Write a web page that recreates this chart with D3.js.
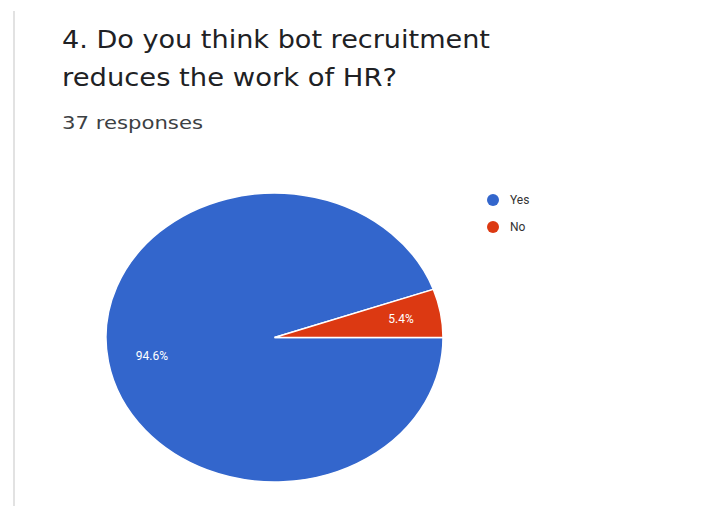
<!DOCTYPE html>
<html>
<head>
<meta charset="utf-8">
<script src="https://cdn.jsdelivr.net/npm/d3@7"></script>
<style>
  html, body { margin: 0; padding: 0; background: #ffffff; }
  svg { display: block; }
</style>
</head>
<body>
<svg id="chart" width="717" height="506"></svg>
<script>
// Survey answers for question 4
const categories = ["Yes", "No"];
const counts = [35, 2];
const colors = ["#3366cc", "#dc3912"];
const titleLines = ["4. Do you think bot recruitment", "reduces the work of HR?"];
const subtitle = "37 responses";

const svg = d3.select("#chart");
const width = 717, height = 506;

// card edge on the left
svg.append("rect")
  .attr("x", 13).attr("y", 11)
  .attr("width", 2).attr("height", height - 11)
  .attr("fill", "#e2e2e2");

// heading, fitted to the widths of the card's header lines
const titleWidths = [428, 335];
const title = svg.append("g")
  .attr("font-family", "'DejaVu Sans', 'Open Sans', sans-serif")
  .attr("font-size", 24)
  .attr("fill", "#202124");
titleLines.forEach((line, i) => {
  title.append("text")
    .attr("x", 62)
    .attr("y", 48 + i * 38)
    .attr("textLength", titleWidths[i])
    .attr("lengthAdjust", "spacingAndGlyphs")
    .text(line);
});

svg.append("text")
  .attr("x", 62).attr("y", 129)
  .attr("font-family", "'DejaVu Sans', 'Open Sans', sans-serif")
  .attr("font-size", 18)
  .attr("textLength", 141)
  .attr("lengthAdjust", "spacingAndGlyphs")
  .attr("fill", "#3c4043")
  .text(subtitle);

// pie
const total = d3.sum(counts);
const data = categories.map((c, i) => ({ category: c, value: counts[i], color: colors[i] }));

const pie = d3.pie()
  .value(d => d.value)
  .sort(null)
  .startAngle(Math.PI / 2)
  .endAngle(Math.PI / 2 + 2 * Math.PI);

const R = 144.5;
const cx = 274.5, cy = 337.5;
const sx = 168.5 / R;   // horizontal stretch of the drawing

const arc = d3.arc().innerRadius(0).outerRadius(R);
const labelArc = d3.arc().innerRadius(R * 0.75).outerRadius(R * 0.75);

const g = svg.append("g")
  .attr("transform", `translate(${cx},${cy}) scale(${sx},1)`);

const arcs = pie(data);

g.selectAll("path.slice")
  .data(arcs)
  .join("path")
  .attr("class", "slice")
  .attr("d", arc)
  .attr("fill", d => d.data.color)
  .attr("stroke", "#ffffff")
  .attr("stroke-width", 1.5)
  .attr("vector-effect", "non-scaling-stroke");

const fmt = v => (v / total * 100).toFixed(1) + "%";

svg.selectAll("text.pct")
  .data(arcs)
  .join("text")
  .attr("class", "pct")
  .attr("x", d => cx + labelArc.centroid(d)[0] * sx + 2)
  .attr("y", d => cy + labelArc.centroid(d)[1])
  .attr("dy", "0.35em")
  .attr("text-anchor", "middle")
  .attr("font-family", "Roboto, Arial, sans-serif")
  .attr("font-size", 12)
  .attr("fill", "#ffffff")
  .text(d => fmt(d.data.value));

// legend
const legend = svg.append("g").attr("transform", "translate(493,200)");
const items = legend.selectAll("g")
  .data(data)
  .join("g")
  .attr("transform", (d, i) => `translate(0,${i * 27})`);
items.append("circle")
  .attr("r", 6)
  .attr("fill", d => d.color);
items.append("text")
  .attr("x", 17)
  .attr("dy", "0.35em")
  .attr("font-family", "Roboto, Arial, sans-serif")
  .attr("font-size", 12)
  .attr("fill", "#333333")
  .text(d => d.category);
</script>
</body>
</html>
